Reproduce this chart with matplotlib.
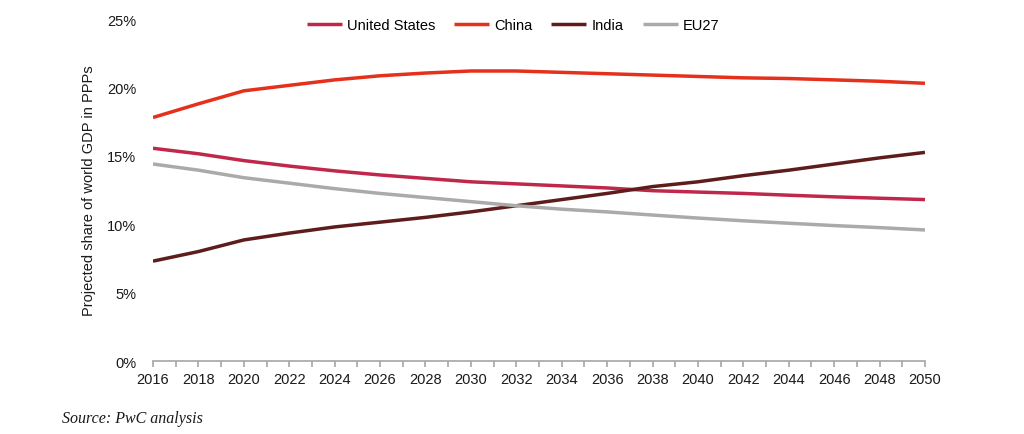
import matplotlib
matplotlib.use("Agg")
import matplotlib.pyplot as plt
from matplotlib.ticker import FuncFormatter, MultipleLocator

# Projected share of world GDP in PPPs (%)
years = [2016, 2018, 2020, 2022, 2024, 2026, 2028, 2030, 2032,
         2034, 2036, 2038, 2040, 2042, 2044, 2046, 2048, 2050]
us = [15.55, 15.15, 14.65, 14.25, 13.9, 13.6, 13.35, 13.1, 12.95,
      12.8, 12.65, 12.45, 12.35, 12.25, 12.12, 12.0, 11.9, 11.8]
china = [17.8, 18.8, 19.75, 20.15, 20.55, 20.85, 21.05, 21.2, 21.2,
         21.1, 21.0, 20.9, 20.8, 20.7, 20.65, 20.55, 20.45, 20.3]
india = [7.3, 8.0, 8.85, 9.35, 9.8, 10.15, 10.5, 10.9, 11.35,
         11.8, 12.25, 12.75, 13.1, 13.55, 13.95, 14.4, 14.85, 15.25]
eu27 = [14.4, 13.95, 13.4, 13.0, 12.6, 12.25, 11.95, 11.65, 11.35,
        11.1, 10.9, 10.67, 10.45, 10.25, 10.07, 9.9, 9.75, 9.58]

series = [
    ("United States", us, "#c0284b"),
    ("China", china, "#e5301b"),
    ("India", india, "#5e1c1c"),
    ("EU27", eu27, "#aaaaaa"),
]

plt.rcParams["font.family"] = ["Liberation Sans", "DejaVu Sans"]

fig = plt.figure(figsize=(10.24, 4.35), dpi=100)
ax = fig.add_axes([0.1494, 0.1678, 0.7539, 0.7862])

for name, vals, col in series:
    ax.plot(years, vals, color=col, lw=2.5, label=name, solid_capstyle="butt")

ax.set_xlim(2016, 2050)
ax.set_ylim(0, 25)
ax.xaxis.set_major_locator(MultipleLocator(2))
ax.xaxis.set_minor_locator(MultipleLocator(1))
ax.yaxis.set_major_locator(MultipleLocator(5))
ax.yaxis.set_major_formatter(FuncFormatter(lambda v, p: f"{v:.0f}%"))

for s in ["top", "right", "left"]:
    ax.spines[s].set_visible(False)
ax.spines["bottom"].set_color("#a6a6a6")
ax.spines["bottom"].set_linewidth(1.2)
ax.tick_params(axis="x", which="both", length=4, width=1.2, color="#a6a6a6",
               labelsize=10.5, labelcolor="#1a1a1a", pad=4)
ax.tick_params(axis="y", length=0, labelsize=10.5, labelcolor="#1a1a1a", pad=12)

ax.set_ylabel("Projected share of world GDP in PPPs", fontsize=10.5,
              color="#1a1a1a", labelpad=8)

fig.legend(loc="center", bbox_to_anchor=(513 / 1024, 1 - 26 / 435), ncol=4,
           frameon=False, fontsize=10.5, handlelength=2.4, handletextpad=0.35,
           columnspacing=1.3)

fig.text(62 / 1024, 1 - 419 / 435, "Source: PwC analysis", fontsize=11.5,
         style="italic", family=["Liberation Serif", "DejaVu Serif"],
         color="#1a1a1a", va="center", ha="left")

fig.savefig("out.png", dpi=100)
